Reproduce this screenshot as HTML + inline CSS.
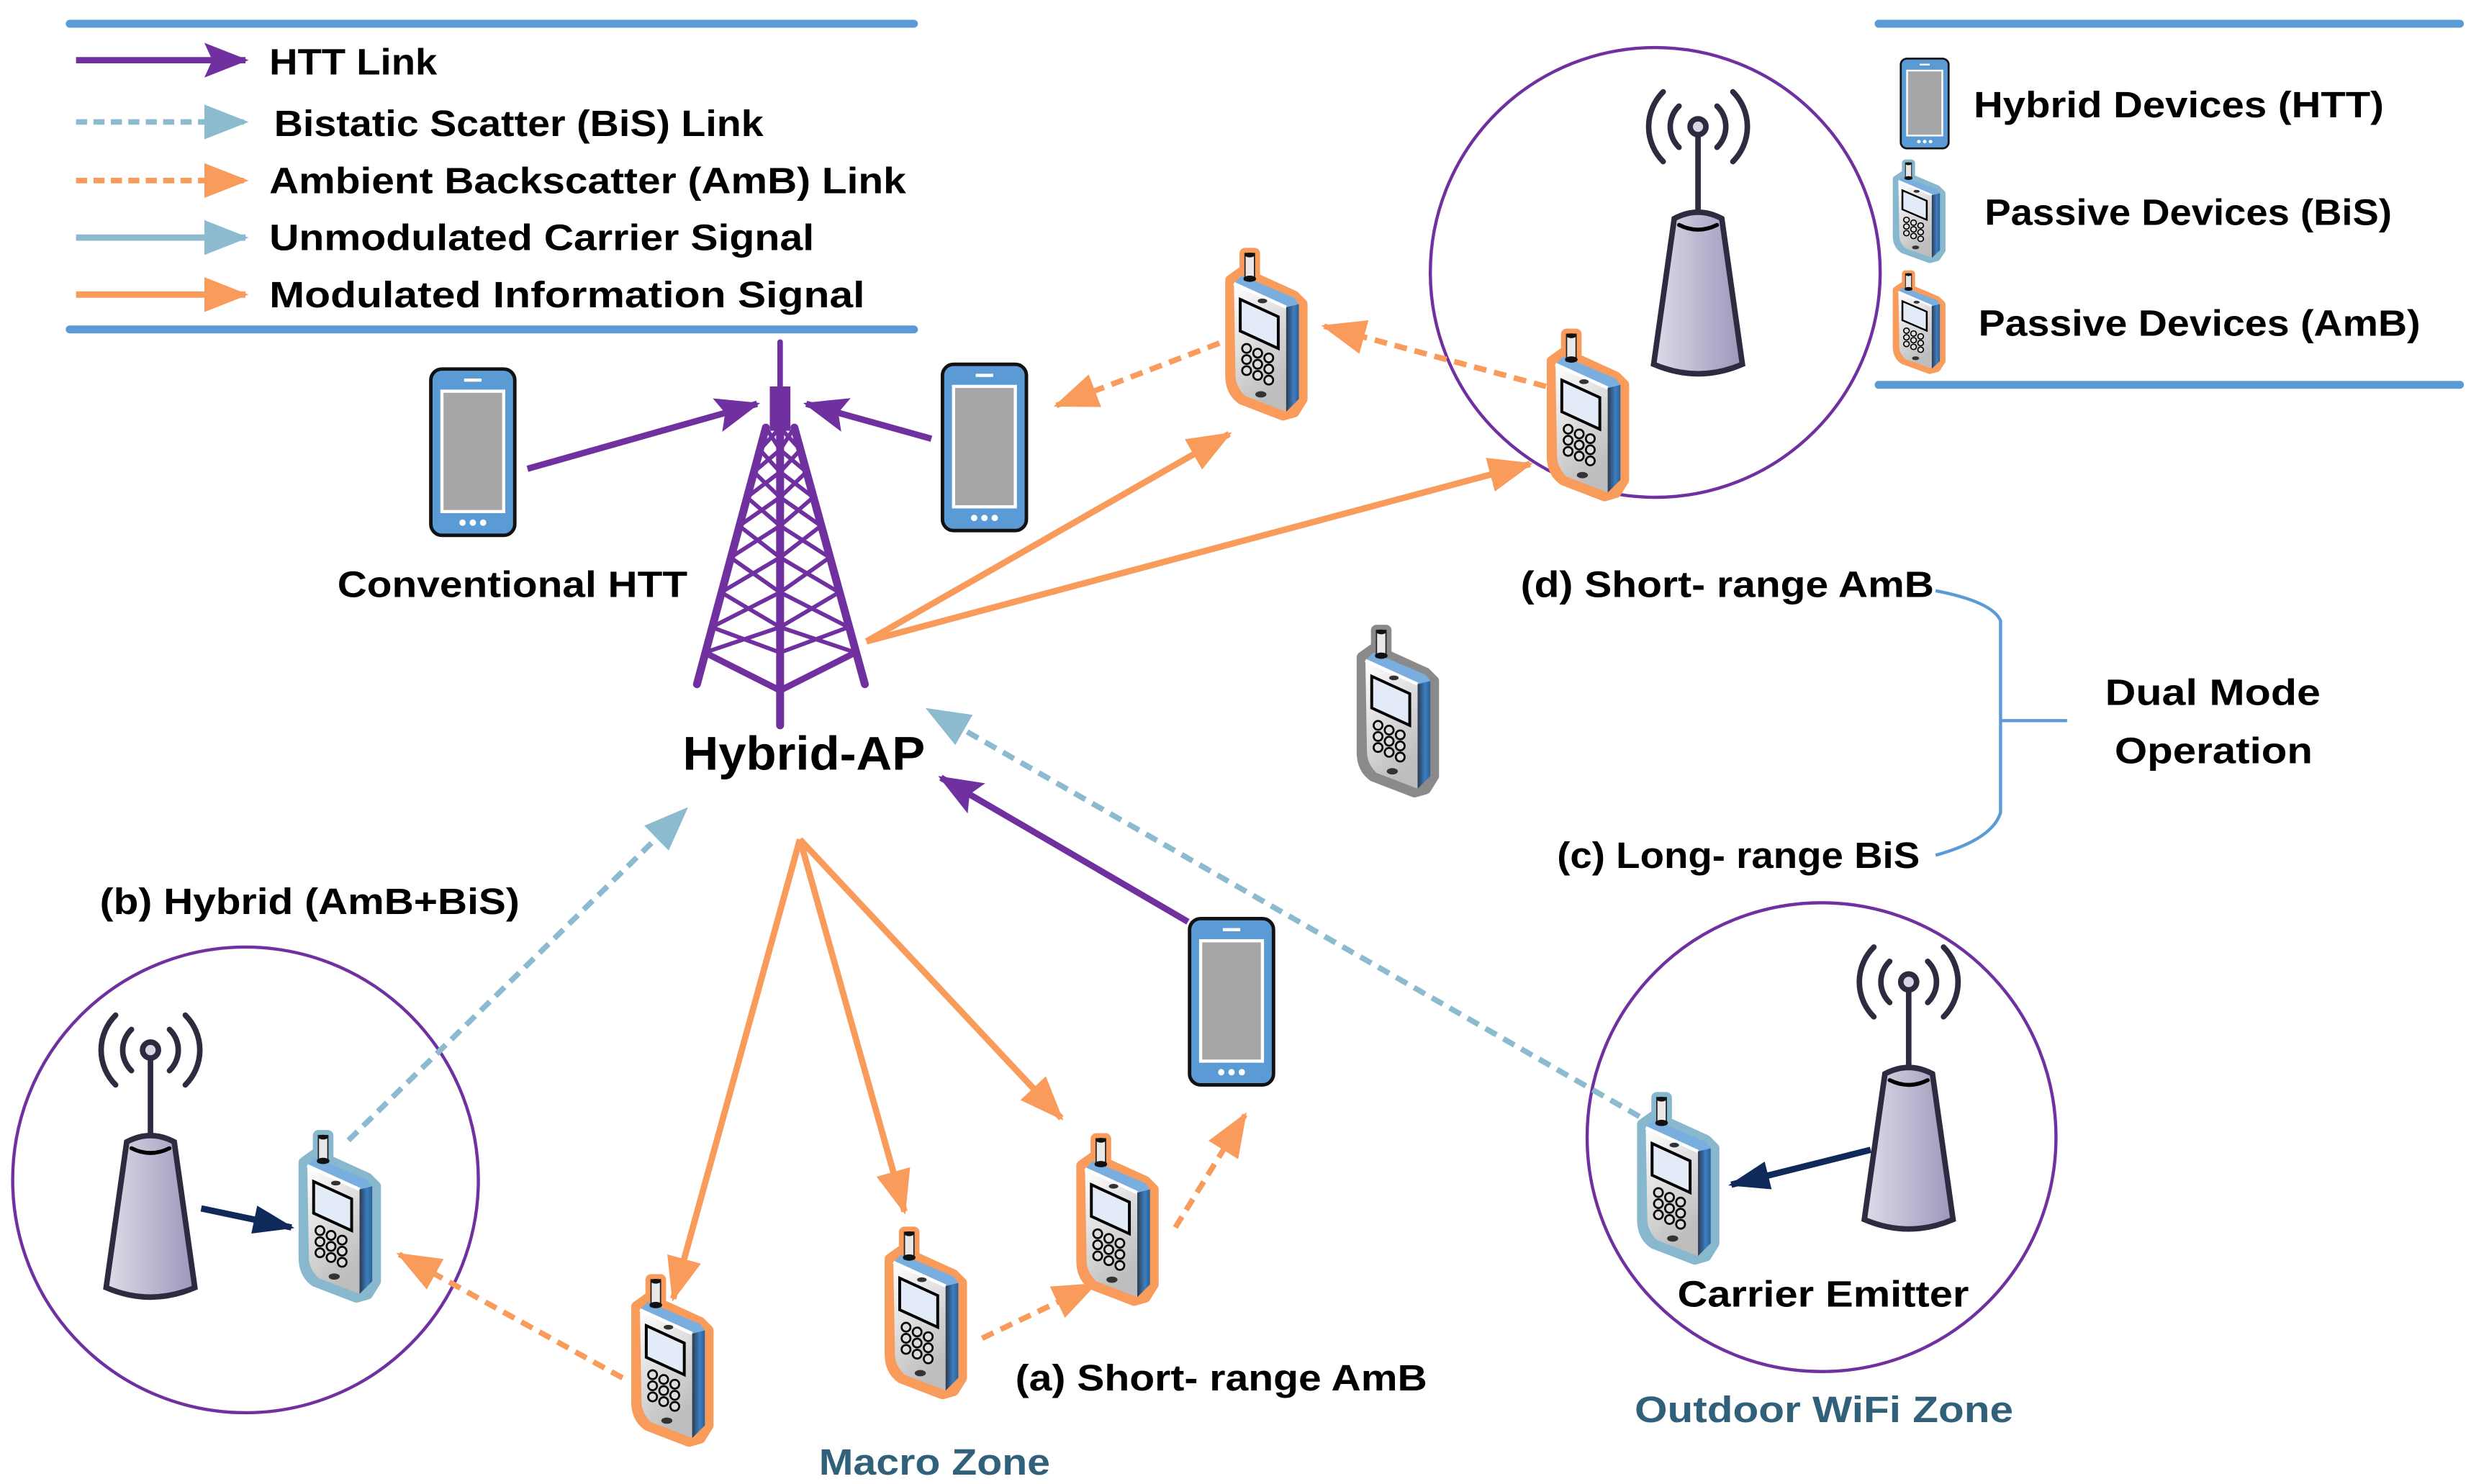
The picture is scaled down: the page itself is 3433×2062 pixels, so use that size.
<!DOCTYPE html>
<html><head><meta charset="utf-8"><style>
html,body{margin:0;padding:0;background:#fff;}
svg{display:block;}
text{font-family:"Liberation Sans",sans-serif;font-weight:bold;fill:#000;}
</style></head><body>
<svg id="s" width="3433" height="2062" viewBox="0 0 1560 937" preserveAspectRatio="none" xmlns="http://www.w3.org/2000/svg">
<defs>
<marker id="mP" markerUnits="userSpaceOnUse" markerWidth="30" markerHeight="30" viewBox="0 0 30 30" refX="26" refY="15" orient="auto"><path d="M0,4 L28,15 L0,26 L5,15 Z" fill="#7030a0"/></marker>
<marker id="mO" markerUnits="userSpaceOnUse" markerWidth="30" markerHeight="30" viewBox="0 0 30 30" refX="26" refY="15" orient="auto"><path d="M0,4 L28,15 L0,26 Z" fill="#f99b5b"/></marker>
<marker id="mB" markerUnits="userSpaceOnUse" markerWidth="30" markerHeight="30" viewBox="0 0 30 30" refX="26" refY="15" orient="auto"><path d="M0,4 L28,15 L0,26 Z" fill="#8cbbd0"/></marker>
<marker id="mN" markerUnits="userSpaceOnUse" markerWidth="30" markerHeight="30" viewBox="0 0 30 30" refX="26" refY="15" orient="auto"><path d="M2,6 L28,15 L2,24 Z" fill="#0f2a5a"/></marker>
<linearGradient id="gFace" x1="0" y1="0" x2="0.4" y2="1"><stop offset="0" stop-color="#ffffff"/><stop offset="1" stop-color="#bdbdbd"/></linearGradient>
<linearGradient id="gSide" x1="0" y1="0" x2="1" y2="0"><stop offset="0" stop-color="#2c3b4f"/><stop offset="0.6" stop-color="#3d7fc4"/><stop offset="1" stop-color="#2d5f94"/></linearGradient>
<linearGradient id="gCone" x1="0" y1="0" x2="1" y2="0"><stop offset="0" stop-color="#dedbe8"/><stop offset="1" stop-color="#9c97bb"/></linearGradient>
<g id="flip">
  <path d="M5,25 L12,20 L45,35 L50,40 L50,100 L45,108 L38,110 L12,100 Q5,95 5,85 Z M14,8 L20,8 L20,24 L14,24 Z"/>
</g>
<g id="phoneBody">
  <path d="M7,27 L40,42 L40,108 L14,98 Q8,92 8,85 Z" fill="url(#gFace)"/>
  <path d="M40,42 L48,40 L48,100 L40,108 Z" fill="url(#gSide)"/>
  <path d="M7,27 L12,22 L45,36 L48,40 L40,42 Z" fill="#7aaede"/>
  <path d="M7,27 L40,42" stroke="#fff" stroke-width="2"/>
  <rect x="14" y="8" width="6" height="17" fill="#e8e8e8" stroke="#222" stroke-width="0.8"/>
  <ellipse cx="17" cy="9" rx="3" ry="1.5" fill="#111"/>
  <ellipse cx="17" cy="24" rx="4" ry="2" fill="#111"/>
  <path d="M11,37 L35,48 L35,68 L11,57 Z" fill="#e4ebf8" stroke="#000" stroke-width="1.8"/>
  <ellipse cx="25" cy="38" rx="3" ry="1.5" fill="#333"/>
  <g fill="#ddd" stroke="#000" stroke-width="1.2">
   <circle cx="15" cy="68" r="2.8"/><circle cx="22" cy="71" r="2.8"/><circle cx="29" cy="74" r="2.8"/>
   <circle cx="15" cy="75" r="2.8"/><circle cx="22" cy="78" r="2.8"/><circle cx="29" cy="81" r="2.8"/>
   <circle cx="15" cy="82" r="2.8"/><circle cx="22" cy="85" r="2.8"/><circle cx="29" cy="88" r="2.8"/>
  </g>
  <ellipse cx="24" cy="97" rx="3.5" ry="2" fill="#333"/>
</g>
<g id="pO"><use href="#flip" fill="#f99b5b" stroke="#f99b5b" stroke-width="7" stroke-linejoin="round"/><use href="#phoneBody"/></g>
<g id="pB"><use href="#flip" fill="#88b8cd" stroke="#88b8cd" stroke-width="7" stroke-linejoin="round"/><use href="#phoneBody"/></g>
<g id="pG"><use href="#flip" fill="#8a8a8a" stroke="#8a8a8a" stroke-width="7" stroke-linejoin="round"/><use href="#phoneBody"/></g>
<g id="htt">
  <rect x="0" y="0" width="53" height="105" rx="7" fill="#5b9bd5" stroke="#111" stroke-width="2.2"/>
  <rect x="6" y="13" width="41" height="78" fill="#fff"/>
  <rect x="8" y="15" width="37" height="74" fill="#a6a6a6"/>
  <rect x="21" y="6" width="11" height="2" fill="#fff"/>
  <circle cx="20" cy="97" r="2" fill="#fff"/><circle cx="26.5" cy="97" r="2" fill="#fff"/><circle cx="33" cy="97" r="2" fill="#fff"/>
</g>
<g id="emit" stroke="#2e2a40" fill="none" stroke-width="3.5" stroke-linecap="round">
  <path d="M-12,-13 A18,18 0 0 0 -12,13"/><path d="M12,-13 A18,18 0 0 1 12,13"/>
  <path d="M-22,-22 A31,31 0 0 0 -22,22"/><path d="M22,-22 A31,31 0 0 1 22,22"/>
  <line x1="0" y1="0" x2="0" y2="62"/>
  <circle cx="0" cy="0" r="5" fill="#d8d6e4"/>
  <path d="M-15,58 L-28,150 Q0,162 28,150 L15,58 Q0,50 -15,58 Z" fill="url(#gCone)"/>
  <path d="M-12,62 Q0,68 12,62" stroke="#000" stroke-width="2.5"/>
</g>
</defs>

<!-- legend lines -->
<g stroke="#5b9bd5" stroke-width="5" stroke-linecap="round">
<line x1="44" y1="15" x2="577" y2="15"/><line x1="44" y1="208" x2="577" y2="208"/>
<line x1="1186" y1="15" x2="1553" y2="15"/><line x1="1186" y1="243" x2="1553" y2="243"/>
</g>
<line x1="48" y1="38" x2="155" y2="38" stroke="#7030a0" stroke-width="4" marker-end="url(#mP)"/>
<line x1="48" y1="77" x2="155" y2="77" stroke="#8cbbd0" stroke-width="3.5" stroke-dasharray="7,4" marker-end="url(#mB)"/>
<line x1="48" y1="114" x2="155" y2="114" stroke="#f99b5b" stroke-width="3.5" stroke-dasharray="7,4" marker-end="url(#mO)"/>
<line x1="48" y1="150" x2="155" y2="150" stroke="#8cbbd0" stroke-width="4" marker-end="url(#mB)"/>
<line x1="48" y1="186" x2="155" y2="186" stroke="#f99b5b" stroke-width="4" marker-end="url(#mO)"/>
<g font-size="23">
<text x="170" y="47" textLength="106" lengthAdjust="spacingAndGlyphs">HTT Link</text>
<text x="173" y="86" textLength="309" lengthAdjust="spacingAndGlyphs">Bistatic Scatter (BiS) Link</text>
<text x="170" y="122" textLength="402" lengthAdjust="spacingAndGlyphs">Ambient Backscatter (AmB) Link</text>
<text x="170" y="158" textLength="344" lengthAdjust="spacingAndGlyphs">Unmodulated Carrier Signal</text>
<text x="170" y="194" textLength="376" lengthAdjust="spacingAndGlyphs">Modulated Information Signal</text>
<text x="1246" y="74" textLength="259" lengthAdjust="spacingAndGlyphs">Hybrid Devices (HTT)</text>
<text x="1253" y="142" textLength="257" lengthAdjust="spacingAndGlyphs">Passive Devices (BiS)</text>
<text x="1249" y="212" textLength="279" lengthAdjust="spacingAndGlyphs">Passive Devices (AmB)</text>
</g>
<use href="#htt" transform="translate(1200,37) scale(0.57,0.54)"/>
<use href="#pB" transform="translate(1194,98) scale(0.64,0.6)"/>
<use href="#pO" transform="translate(1194,168) scale(0.64,0.6)"/>

<!-- circles -->
<g fill="none" stroke="#7030a0" stroke-width="2">
<circle cx="1045" cy="172" r="142"/>
<circle cx="155" cy="745" r="147"/>
<circle cx="1150" cy="718" r="148"/>
</g>

<!-- tower -->
<g id="tower" stroke="#7030a0" stroke-linecap="round" fill="#7030a0"></g>

<!-- emitters -->
<use href="#emit" transform="translate(1072,80)"/>
<use href="#emit" transform="translate(95,663)"/>
<use href="#emit" transform="translate(1205,620)"/>

<!-- connectors -->
<g fill="none">
<line x1="333" y1="296" x2="478" y2="255" stroke="#7030a0" stroke-width="4" marker-end="url(#mP)"/>
<line x1="588" y1="277" x2="509" y2="255" stroke="#7030a0" stroke-width="4" marker-end="url(#mP)"/>
<line x1="750" y1="582" x2="594" y2="491" stroke="#7030a0" stroke-width="4" marker-end="url(#mP)"/>
<line x1="547" y1="405" x2="776" y2="274" stroke="#f99b5b" stroke-width="4" marker-end="url(#mO)"/>
<line x1="547" y1="405" x2="966" y2="293" stroke="#f99b5b" stroke-width="4" marker-end="url(#mO)"/>
<line x1="505" y1="530" x2="425" y2="820" stroke="#f99b5b" stroke-width="4" marker-end="url(#mO)"/>
<line x1="505" y1="530" x2="571" y2="765" stroke="#f99b5b" stroke-width="4" marker-end="url(#mO)"/>
<line x1="505" y1="530" x2="670" y2="706" stroke="#f99b5b" stroke-width="4" marker-end="url(#mO)"/>
<g stroke="#f99b5b" stroke-width="3.5" stroke-dasharray="8,5">
<line x1="782" y1="212" x2="667" y2="256" marker-end="url(#mO)"/>
<line x1="976" y1="244" x2="836" y2="206" marker-end="url(#mO)"/>
<line x1="393" y1="870" x2="252" y2="792" marker-end="url(#mO)"/>
<line x1="620" y1="845" x2="691" y2="811" marker-end="url(#mO)"/>
<line x1="742" y1="775" x2="786" y2="704" marker-end="url(#mO)"/>
</g>
<g stroke="#8cbbd0" stroke-width="3.5" stroke-dasharray="8,5">
<line x1="220" y1="720" x2="433" y2="511" marker-end="url(#mB)"/>
<line x1="1035" y1="705" x2="586" y2="448" marker-end="url(#mB)"/>
</g>
<line x1="127" y1="763" x2="184" y2="775" stroke="#0f2a5a" stroke-width="4" marker-end="url(#mN)"/>
<line x1="1181" y1="726" x2="1093" y2="748" stroke="#0f2a5a" stroke-width="4" marker-end="url(#mN)"/>
<path d="M1222,373 Q1258,380 1263,392 L1263,513 Q1258,530 1222,540 M1263,455 L1305,455" stroke="#5b9bd5" stroke-width="2"/>
</g>

<!-- devices -->
<use href="#htt" x="272" y="233"/>
<use href="#htt" x="595" y="230"/>
<use href="#htt" x="751" y="580"/>
<use href="#pO" x="772" y="152"/>
<use href="#pO" x="975" y="203"/>
<use href="#pO" x="397" y="800"/>
<use href="#pO" x="557" y="770"/>
<use href="#pO" x="678" y="711"/>
<use href="#pB" x="187" y="709"/>
<use href="#pB" x="1032" y="685"/>
<use href="#pG" x="855" y="390"/>

<!-- labels -->
<g font-size="23">
<text x="213" y="377" textLength="221" lengthAdjust="spacingAndGlyphs">Conventional HTT</text>
<text x="63" y="577" textLength="265" lengthAdjust="spacingAndGlyphs">(b) Hybrid (AmB+BiS)</text>
<text x="960" y="377" textLength="261" lengthAdjust="spacingAndGlyphs">(d) Short- range AmB</text>
<text x="983" y="548" textLength="229" lengthAdjust="spacingAndGlyphs">(c) Long- range BiS</text>
<text x="1329" y="445" textLength="136" lengthAdjust="spacingAndGlyphs">Dual Mode</text>
<text x="1335" y="482" textLength="125" lengthAdjust="spacingAndGlyphs">Operation</text>
<text x="1059" y="825" textLength="184" lengthAdjust="spacingAndGlyphs">Carrier Emitter</text>
<text x="641" y="878" textLength="260" lengthAdjust="spacingAndGlyphs">(a) Short- range AmB</text>
<text x="1032" y="898" textLength="239" lengthAdjust="spacingAndGlyphs" style="fill:#31607a">Outdoor WiFi Zone</text>
<text x="517" y="931" textLength="146" lengthAdjust="spacingAndGlyphs" style="fill:#31607a">Macro Zone</text>
</g>
<text x="431" y="486" font-size="30" textLength="153" lengthAdjust="spacingAndGlyphs">Hybrid-AP</text>
</svg>
<script>
(function(){
var g=document.getElementById('tower'),ns='http://www.w3.org/2000/svg',cx=492.5;
function L(a,b,c,d,w){var l=document.createElementNS(ns,'line');l.setAttribute('x1',a);l.setAttribute('y1',b);l.setAttribute('x2',c);l.setAttribute('y2',d);l.setAttribute('stroke-width',w);g.appendChild(l);}
function hw(y){return 9+(y-270)*0.2716;}
L(cx,216,cx,250,3.5);
var r=document.createElementNS(ns,'rect');r.setAttribute('x',cx-6.5);r.setAttribute('y',244);r.setAttribute('width',13);r.setAttribute('height',28);r.setAttribute('stroke','none');g.appendChild(r);
L(cx-9,270,440,432,5);L(cx+9,270,546,432,5);
L(cx,270,cx,458,5);
var lv=[270,284,298,314,332,352,374,396,412];
for(var i=0;i<lv.length-1;i++){var y1=lv[i],y2=lv[i+1],w1=hw(y1),w2=hw(y2),sw=2.6;
L(cx-w1,y1,cx,y2,sw);L(cx,y1,cx-w2,y2,sw);L(cx+w1,y1,cx,y2,sw);L(cx,y1,cx+w2,y2,sw);}
L(cx-hw(412),412,cx,436,4);L(cx+hw(412),412,cx,436,4);
})();
</script>
</body></html>
